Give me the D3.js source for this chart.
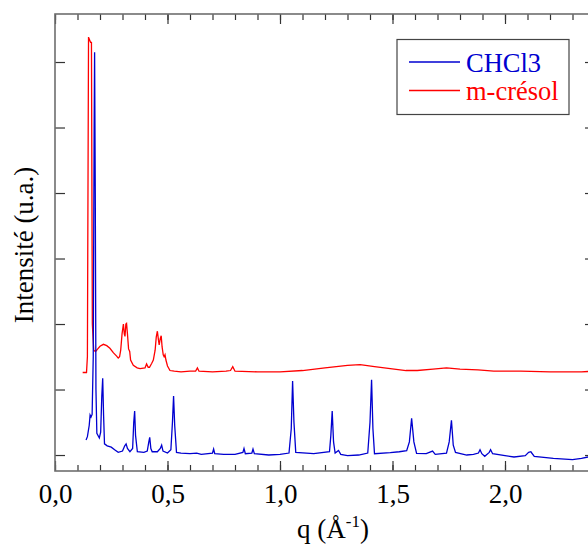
<!DOCTYPE html>
<html>
<head>
<meta charset="utf-8">
<script src="https://cdn.jsdelivr.net/npm/d3@7"></script>
<style>
  body { margin: 0; background: #fff; }
  svg text { font-family: "Liberation Serif", "Times New Roman", serif; }
</style>
</head>
<body>
<svg id="chart"></svg>
<script>
// CHCl3 series (q, intensity in arbitrary units)
const chclQ = [0.138, 0.144, 0.152, 0.156, 0.160, 0.165, 0.170, 0.174, 0.176, 0.179, 0.182, 0.186, 0.197, 0.203, 0.208, 0.212, 0.216, 0.220, 0.232, 0.250, 0.265, 0.281, 0.300, 0.310, 0.316, 0.322, 0.333, 0.345, 0.350, 0.354, 0.358, 0.366, 0.395, 0.410, 0.417, 0.421, 0.426, 0.432, 0.455, 0.468, 0.474, 0.480, 0.500, 0.515, 0.522, 0.527, 0.532, 0.540, 0.560, 0.600, 0.630, 0.650, 0.700, 0.705, 0.710, 0.750, 0.800, 0.835, 0.840, 0.846, 0.875, 0.880, 0.886, 0.950, 1.000, 1.040, 1.050, 1.056, 1.062, 1.070, 1.150, 1.220, 1.226, 1.232, 1.238, 1.245, 1.260, 1.270, 1.300, 1.350, 1.390, 1.400, 1.407, 1.413, 1.420, 1.490, 1.530, 1.563, 1.575, 1.585, 1.595, 1.607, 1.650, 1.678, 1.690, 1.740, 1.752, 1.762, 1.770, 1.780, 1.830, 1.860, 1.882, 1.889, 1.897, 1.910, 1.930, 1.936, 1.945, 2.000, 2.040, 2.090, 2.105, 2.115, 2.130, 2.215, 2.300, 2.340, 2.370, 2.400];
const chclI = [0.23, 0.28, 0.45, 0.61, 0.58, 0.62, 1.5, 5.0, 6.15, 4.0, 1.0, 0.33, 0.26, 0.35, 0.9, 1.17, 0.6, 0.17, 0.14, 0.12, 0.08, 0.04, 0.06, 0.14, 0.17, 0.1, 0.05, 0.1, 0.5, 0.67, 0.3, 0.05, 0.04, 0.06, 0.2, 0.27, 0.1, 0.05, 0.05, 0.1, 0.15, 0.06, 0.03, 0.08, 0.5, 0.9, 0.45, 0.04, 0.03, 0.02, 0.03, 0.01, 0.03, 0.09, 0.02, 0.01, 0.01, 0.04, 0.1, 0.02, 0.03, 0.09, 0.02, 0.0, 0.01, 0.03, 0.4, 1.13, 0.5, 0.04, 0.02, 0.05, 0.3, 0.67, 0.2, 0.03, 0.07, 0.01, -0.01, 0.0, 0.03, 0.5, 1.15, 0.4, 0.02, 0.035, 0.05, 0.065, 0.2, 0.56, 0.2, 0.025, 0.02, 0.06, 0.01, 0.03, 0.2, 0.53, 0.15, 0.04, 0.0, 0.01, 0.03, 0.08, 0.02, -0.02, 0.04, 0.08, 0.02, -0.01, -0.03, -0.01, 0.04, 0.05, -0.02, -0.05, -0.07, -0.05, -0.03, -0.03];

// m-crésol series
const cresolQ = [0.123, 0.140, 0.144, 0.149, 0.152, 0.158, 0.162, 0.166, 0.172, 0.180, 0.190, 0.200, 0.215, 0.230, 0.244, 0.260, 0.274, 0.281, 0.287, 0.292, 0.298, 0.304, 0.308, 0.311, 0.315, 0.318, 0.322, 0.327, 0.332, 0.336, 0.348, 0.365, 0.378, 0.400, 0.407, 0.414, 0.420, 0.430, 0.437, 0.445, 0.450, 0.455, 0.460, 0.463, 0.468, 0.472, 0.476, 0.481, 0.485, 0.489, 0.493, 0.500, 0.511, 0.530, 0.560, 0.600, 0.625, 0.633, 0.640, 0.700, 0.760, 0.780, 0.790, 0.800, 0.900, 1.000, 1.100, 1.200, 1.300, 1.356, 1.420, 1.490, 1.560, 1.610, 1.680, 1.740, 1.800, 1.880, 1.950, 2.070, 2.200, 2.340, 2.400];
const cresolI = [1.26, 1.26, 1.5, 6.38, 6.35, 6.3, 6.3, 2.0, 1.6, 1.58, 1.62, 1.66, 1.69, 1.67, 1.63, 1.56, 1.51, 1.48, 1.50, 1.6, 1.85, 2.0, 1.85, 1.81, 2.0, 2.01, 1.85, 1.62, 1.58, 1.45, 1.37, 1.33, 1.32, 1.33, 1.39, 1.34, 1.34, 1.4, 1.45, 1.6, 1.8, 1.89, 1.75, 1.68, 1.78, 1.82, 1.65, 1.53, 1.5, 1.53, 1.45, 1.36, 1.29, 1.28, 1.27, 1.28, 1.28, 1.33, 1.28, 1.27, 1.28, 1.29, 1.35, 1.28, 1.27, 1.27, 1.29, 1.33, 1.37, 1.38, 1.35, 1.32, 1.29, 1.29, 1.31, 1.33, 1.31, 1.30, 1.28, 1.28, 1.27, 1.27, 1.28];

const xMajor = [0, 0.5, 1.0, 1.5, 2.0];
const xMinor = d3.range(0, 24).map(i => i / 10);
const yMajor = [0, 1, 2, 3, 4, 5, 6];

const seriesNames = ['CHCl3', 'm-crésol'];
const seriesColors = ['#0000d0', '#ff0000'];

const W = 588, H = 544;
const plotLeft = 55, plotTop = 14, plotRight = 595, plotBottom = 471;

const svg = d3.select('#chart').attr('width', W).attr('height', H);

const x = d3.scaleLinear().domain([0, 2.4]).range([plotLeft, plotRight]);
const y = d3.scaleLinear().domain([-0.244, 6.733]).range([plotBottom, plotTop]);

const fmt = d => d.toFixed(1).replace('.', ',');

svg.append('clipPath').attr('id', 'clip')
  .append('rect')
  .attr('x', plotLeft).attr('y', plotTop)
  .attr('width', plotRight - plotLeft).attr('height', plotBottom - plotTop);

// curves
const line = d3.line().x(d => x(d[0])).y(d => y(d[1]));
const chcl = chclQ.map((q, i) => [q, chclI[i]]);
const cresol = cresolQ.map((q, i) => [q, cresolI[i]]);

const plot = svg.append('g').attr('clip-path', 'url(#clip)');
plot.append('path').datum(cresol)
  .attr('d', line).attr('fill', 'none')
  .attr('stroke', seriesColors[1]).attr('stroke-width', 1.3);
plot.append('path').datum(chcl)
  .attr('d', line).attr('fill', 'none')
  .attr('stroke', seriesColors[0]).attr('stroke-width', 1.3);

// tick marks, all pointing inward
function ticks(axis, pos) {
  const g = svg.append('g').attr('transform', pos).call(axis);
  g.select('.domain').remove();
  g.selectAll('.tick line').attr('stroke', '#333').attr('stroke-width', 1.2);
  return g;
}

ticks(d3.axisBottom(x).tickValues(xMinor).tickSize(-6).tickFormat(''), `translate(0,${plotBottom})`);
ticks(d3.axisTop(x).tickValues(xMinor).tickSize(-6).tickFormat(''), `translate(0,${plotTop})`);
ticks(d3.axisTop(x).tickValues(xMajor).tickSize(-10).tickFormat(''), `translate(0,${plotTop})`);
const xg = ticks(d3.axisBottom(x).tickValues(xMajor).tickSize(-10).tickFormat(fmt), `translate(0,${plotBottom})`);
xg.selectAll('.tick text')
  .attr('y', 32).attr('dy', 0)
  .attr('fill', '#000')
  .style('font-size', '27px')
  .style('font-family', '"Liberation Serif", serif');

ticks(d3.axisLeft(y).tickValues(yMajor).tickSize(-10).tickFormat(''), `translate(${plotLeft},0)`);
ticks(d3.axisRight(y).tickValues(yMajor).tickSize(-10).tickFormat(''), `translate(${plotRight},0)`);

// frame
svg.append('rect')
  .attr('x', plotLeft).attr('y', plotTop)
  .attr('width', plotRight - plotLeft).attr('height', plotBottom - plotTop)
  .attr('fill', 'none').attr('stroke', '#6e6e6e').attr('stroke-width', 1.6);

// axis titles
const xt = svg.append('text')
  .attr('x', 333).attr('y', 538)
  .attr('text-anchor', 'middle')
  .style('font-size', '27px');
xt.append('tspan').text('q (Å');
xt.append('tspan').attr('dy', -11).style('font-size', '17px').text('-1');
xt.append('tspan').attr('dy', 11).text(')');

svg.append('text')
  .attr('transform', 'translate(33,245) rotate(-90)')
  .attr('text-anchor', 'middle')
  .style('font-size', '27px')
  .text('Intensité (u.a.)');

// legend
const lg = svg.append('g');
lg.append('rect')
  .attr('x', 397).attr('y', 39.5)
  .attr('width', 172).attr('height', 75)
  .attr('fill', '#fff').attr('stroke', '#444').attr('stroke-width', 1.2);
seriesNames.forEach((name, i) => {
  const ly = 62 + i * 28.5;
  lg.append('line')
    .attr('x1', 409).attr('x2', 460).attr('y1', ly).attr('y2', ly)
    .attr('stroke', seriesColors[i]).attr('stroke-width', 1.3);
  lg.append('text')
    .attr('x', 466).attr('y', ly + 9.5)
    .attr('fill', seriesColors[i])
    .style('font-size', '26.5px')
    .text(name);
});
</script>
</body>
</html>
